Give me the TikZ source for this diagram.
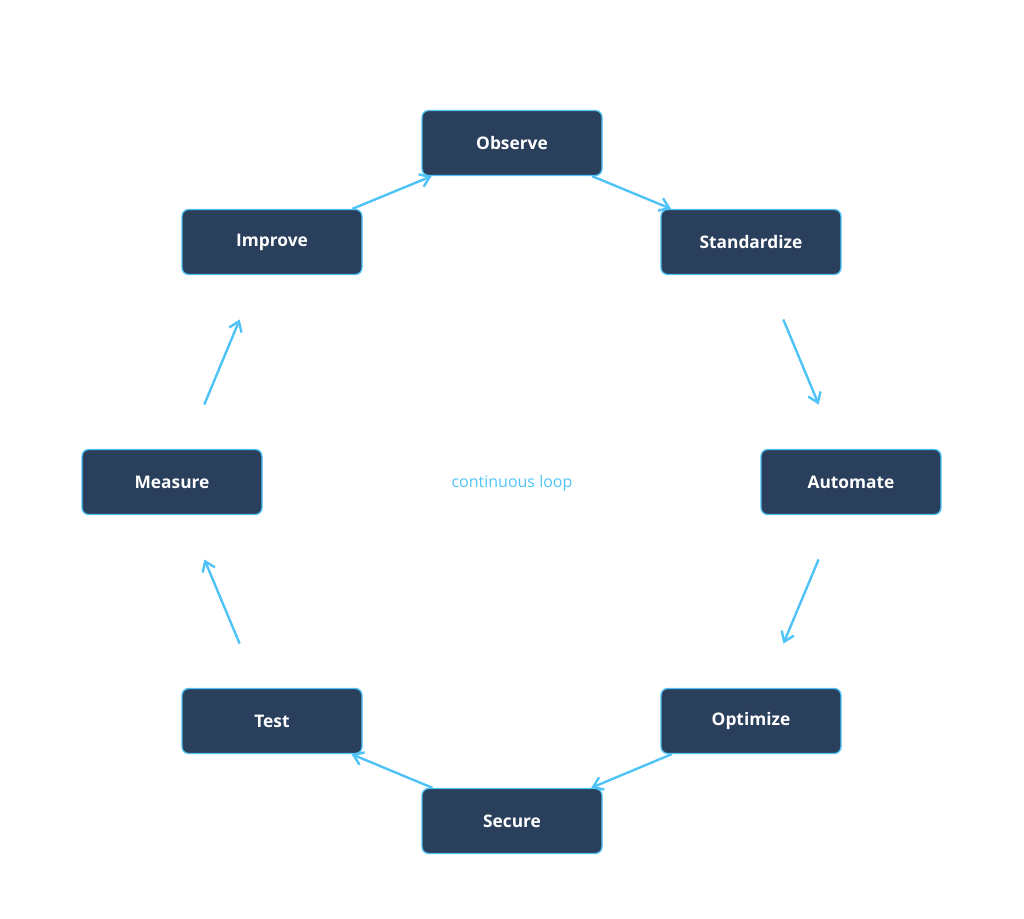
\documentclass[tikz,border=0pt]{standalone}
\usepackage{fontspec}
\setmainfont{Open Sans}
\usetikzlibrary{arrows.meta}
\definecolor{boxfill}{HTML}{2A3F5C}
\definecolor{accent}{HTML}{4FC3F7}
\begin{document}
\begin{tikzpicture}[x=0.75pt,y=-0.75pt,
  box/.style={draw=accent,line width=1pt,fill=boxfill,rounded corners=5pt,minimum width=135pt,minimum height=48.75pt,text=white,font=\fontsize{13}{15}\selectfont\bfseries},
  arr/.style={draw=accent,line width=1.8pt,-{Straight Barb[length=7pt,width=10pt]}},
  gap/.style={shorten <=36pt,shorten >=36pt}]
\useasboundingbox (0,0) rectangle (1024,919);
\node[box] (obs) at (512,143) {Observe};
\node[box] (std) at (751,242) {Standardize};
\node[box] (aut) at (851,482) {Automate};
\node[box] (opt) at (751,721) {Optimize};
\node[box] (sec) at (512,821) {Secure};
\node[box] (tst) at (272,721) {Test};
\node[box] (mea) at (172,482) {Measure};
\node[box] (imp) at (272,242) {Improve};
\node[text=accent,font=\fontsize{12}{14}\selectfont] (lbl) at (512,483) {continuous loop};
\draw[arr] (obs) -- (std);
\draw[arr,gap] (std) -- (aut);
\draw[arr,gap] (aut) -- (opt);
\draw[arr] (opt) -- (sec);
\draw[arr] (sec) -- (tst);
\draw[arr,gap] (tst) -- (mea);
\draw[arr,gap] (mea) -- (imp);
\draw[arr] (imp) -- (obs);
\end{tikzpicture}
\end{document}
